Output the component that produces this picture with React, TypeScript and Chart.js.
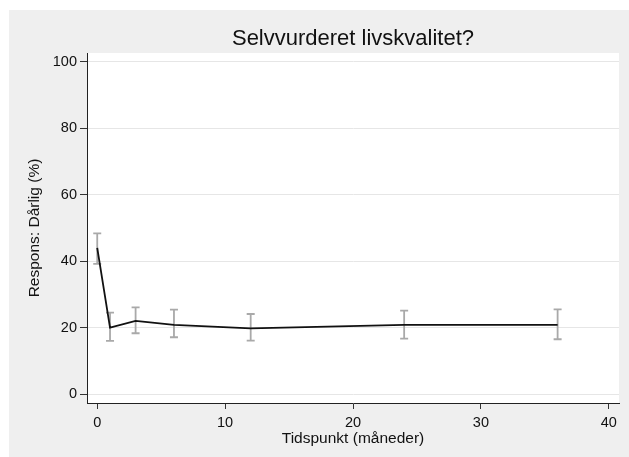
import React, { useEffect, useRef } from "react";
import { Chart, registerables } from "chart.js";

Chart.register(...registerables);

// Data
const months = [0, 1, 3, 6, 12, 24, 36];
const poorPct = [44.0, 20.0, 22.0, 20.8, 19.8, 20.8, 20.8];
const ciLow = [39.2, 16.0, 18.3, 17.1, 16.1, 16.7, 16.5];
const ciHigh = [48.4, 24.5, 26.1, 25.4, 24.1, 25.1, 25.5];
const yTicks = [0, 20, 40, 60, 80, 100];
const xTicks = [0, 10, 20, 30, 40];

const titleText = "Selvvurderet livskvalitet?";
const xTitle = "Tidspunkt (måneder)";
const yTitle = "Respons: Dårlig (%)";

const FONT = "Arial, 'Liberation Sans', Helvetica, sans-serif";

const backgroundPlugin = {
  id: "bgPlugin",
  beforeDraw(chart: any) {
    const { ctx, chartArea, width, height } = chart;
    ctx.save();
    ctx.fillStyle = "#efefef";
    ctx.fillRect(0, 0, width, height);
    ctx.fillStyle = "#ffffff";
    ctx.fillRect(chartArea.left, chartArea.top, chartArea.right - chartArea.left, chartArea.bottom - chartArea.top);
    ctx.restore();
  },
};

const errorBarPlugin = {
  id: "errorBars",
  beforeDatasetsDraw(chart: any) {
    const { ctx } = chart;
    const x = chart.scales.x;
    const y = chart.scales.y;
    ctx.save();
    ctx.strokeStyle = "#a9a9a9";
    ctx.lineWidth = 1.8;
    const cap = 4;
    months.forEach((m, i) => {
      const px = x.getPixelForValue(m);
      const top = y.getPixelForValue(ciHigh[i]);
      const bot = y.getPixelForValue(ciLow[i]);
      ctx.beginPath();
      ctx.moveTo(px, top);
      ctx.lineTo(px, bot);
      ctx.moveTo(px - cap, top);
      ctx.lineTo(px + cap, top);
      ctx.moveTo(px - cap, bot);
      ctx.lineTo(px + cap, bot);
      ctx.stroke();
    });
    ctx.restore();
  },
};

export default function App() {
  const ref = useRef<HTMLCanvasElement | null>(null);

  useEffect(() => {
    if (!ref.current) return;
    const chart = new Chart(ref.current, {
      type: "line",
      data: {
        datasets: [
          {
            label: "Dårlig",
            data: months.map((m, i) => ({ x: m, y: poorPct[i] })),
            borderColor: "#111111",
            borderWidth: 1.8,
            pointRadius: 0,
            tension: 0,
            fill: false,
          },
        ],
      },
      options: {
        animation: false,
        responsive: false,
        layout: { padding: { left: 0, right: 10, top: 0, bottom: 0 } },
        plugins: {
          legend: { display: false },
          tooltip: { enabled: false },
          title: {
            display: true,
            text: titleText,
            fullSize: false,
            color: "#111111",
            font: { family: FONT, size: 22, weight: "normal", lineHeight: 1.2 },
            padding: { top: 16, bottom: 0.6 },
          },
        },
        scales: {
          x: {
            type: "linear",
            min: -0.8,
            max: 40.8,
            afterBuildTicks: (s: any) => {
              s.ticks = xTicks.map((v) => ({ value: v }));
            },
            afterFit: (s: any) => {
              s.height = 54;
            },
            grid: {
              drawOnChartArea: false,
              drawTicks: true,
              tickLength: 6,
              tickColor: "#333333",
              tickWidth: 1,
            },
            border: { display: true, color: "#222222", width: 1 },
            ticks: {
              color: "#111111",
              padding: 5,
              maxRotation: 0,
              font: { family: FONT, size: 14.5 },
            },
            title: {
              display: true,
              text: xTitle,
              color: "#111111",
              font: { family: FONT, size: 15.5, lineHeight: 1.2 },
              padding: { top: 0, bottom: 8.7 },
            },
          },
          y: {
            type: "linear",
            min: -2.7,
            max: 102.7,
            afterBuildTicks: (s: any) => {
              s.ticks = yTicks.map((v) => ({ value: v }));
            },
            afterFit: (s: any) => {
              s.width = 78;
            },
            grid: {
              drawOnChartArea: true,
              color: "#e6e6e6",
              lineWidth: 1,
              drawTicks: true,
              tickLength: 7,
              tickColor: "#333333",
              tickWidth: 1,
            },
            border: { display: true, color: "#222222", width: 1 },
            ticks: {
              color: "#111111",
              padding: 3,
              font: { family: FONT, size: 14.5 },
            },
            title: {
              display: true,
              text: yTitle,
              color: "#111111",
              font: { family: FONT, size: 15.5, lineHeight: 1.2 },
              padding: { top: 16.7, bottom: 0 },
            },
          },
        },
      },
      plugins: [backgroundPlugin, errorBarPlugin],
    } as any);
    return () => chart.destroy();
  }, []);

  return (
    <div
      style={{
        position: "absolute",
        left: 9,
        top: 10,
        width: 620,
        height: 447,
        background: "#efefef",
        overflow: "hidden",
      }}
    >
      <canvas ref={ref} width={620} height={447} style={{ display: "block", width: 620, height: 447 }} />
    </div>
  );
}
